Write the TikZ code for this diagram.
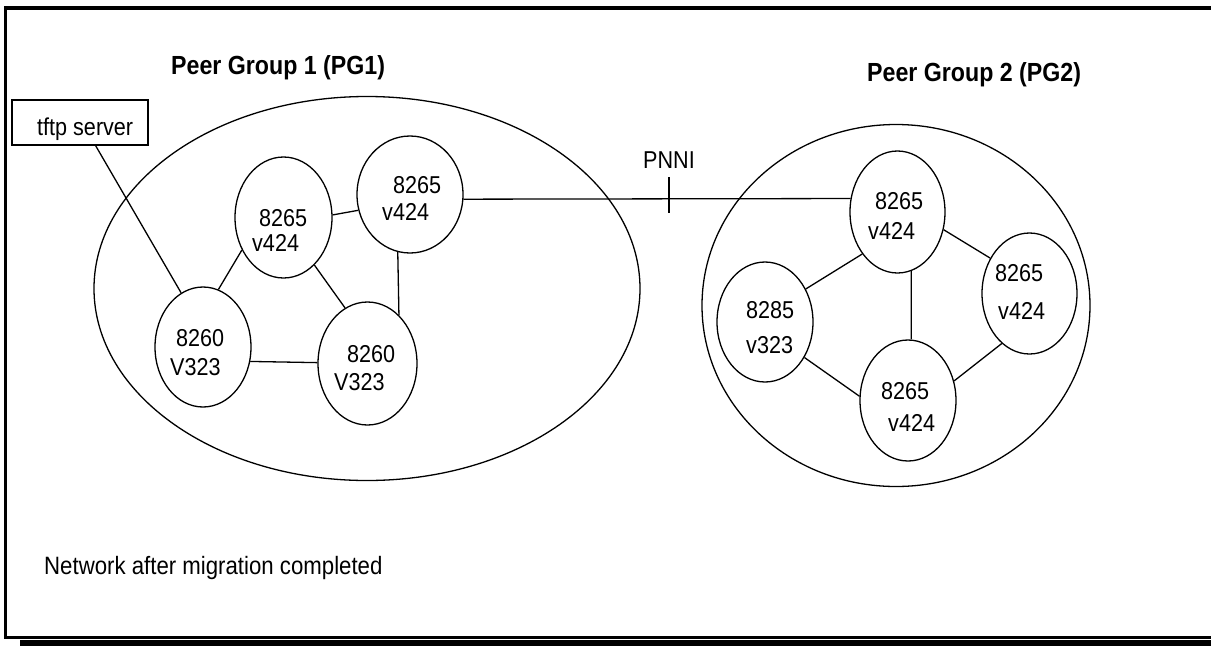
\documentclass[tikz,border=0pt]{standalone}
\usepackage{fontspec}
\setmainfont{Liberation Sans}[FakeStretch=0.885]
\usetikzlibrary{shapes.geometric}
\tikzset{
  unit/.style={x=1pt,y=-1pt},
  grp/.style={draw,ellipse,line width=1.3pt,inner sep=0pt},
  sw/.style={draw,ellipse,line width=1.3pt,inner sep=0pt},
  lbl/.style={anchor=base west,inner sep=0pt,font=\fontsize{24.4}{28}\selectfont},
  ttl/.style={anchor=base west,inner sep=0pt,font=\fontsize{26.2}{30}\selectfont\bfseries},
  link/.style={line width=1.3pt},
  frame/.style={line width=3.5pt}
}
\begin{document}
\begin{tikzpicture}[unit]
\useasboundingbox (0,0) rectangle (1211,646);
% frame
\draw[frame] (4,8) -- (1211,8);
\draw[frame] (5.5,6) -- (5.5,638);
\draw[line width=3pt] (4,637) -- (1211,637);
\fill[black] (20,640) rectangle (1211,646);
% peer groups
\node[grp,minimum width=546pt,minimum height=384pt] (pg1) at (367,288.5) {};
\node[grp,minimum width=388pt,minimum height=362pt] (pg2) at (896,305.5) {};
\node[ttl] (t1) at (171,74) {Peer Group 1 (PG1)};
\node[ttl] (t2) at (867,81) {Peer Group 2 (PG2)};
% switches PG1
\node[sw,minimum width=97pt,minimum height=121pt] (A) at (283.5,217.5) {};
\node[sw,minimum width=106pt,minimum height=117pt] (B) at (410,194.5) {};
\node[sw,minimum width=96pt,minimum height=120pt] (C) at (203,347) {};
\node[sw,minimum width=99pt,minimum height=123pt] (D) at (367.5,363.5) {};
% switches PG2
\node[sw,minimum width=95pt,minimum height=122pt] (E) at (897.5,212) {};
\node[sw,minimum width=95pt,minimum height=121pt] (F) at (1029.5,293.5) {};
\node[sw,minimum width=96pt,minimum height=120pt] (G) at (765,322) {};
\node[sw,minimum width=96pt,minimum height=121pt] (H) at (908,400.5) {};
% labels
\node[lbl] (A1) at (259,226) {8265};
\node[lbl] (A2) at (252,251) {v424};
\node[lbl] (B1) at (393,193) {8265};
\node[lbl] (B2) at (382,220) {v424};
\node[lbl] (C1) at (176,346) {8260};
\node[lbl] (C2) at (170,375) {V323};
\node[lbl] (D1) at (347,362) {8260};
\node[lbl] (D2) at (334,390) {V323};
\node[lbl] (E1) at (875,209) {8265};
\node[lbl] (E2) at (868,239) {v424};
\node[lbl] (F1) at (995,281) {8265};
\node[lbl] (F2) at (998,319) {v424};
\node[lbl] (G1) at (746,318) {8285};
\node[lbl] (G2) at (746,353) {v323};
\node[lbl] (H1) at (881,399) {8265};
\node[lbl] (H2) at (888,431) {v424};
% tftp server
\node[draw,line width=1.3pt,minimum width=136pt,minimum height=45pt,inner sep=0pt] (tftp) at (80,122.5) {};
\node[lbl] (tftpt) at (37,135) {tftp server};
% PNNI
\node[lbl] (pnni) at (643,168) {PNNI};
\coordinate (tk1) at (669,177);
\coordinate (tk2) at (669,213);
\draw[link] (tk1) -- (tk2);
% links
\draw[link] (tftp.-56) -- (C.112);
\draw[link] (C.75.5) -- (A.218);
\draw[link] (A.3) -- (B.197.4);
\draw[link] (A.-57.3) -- (D.112.5);
\draw[link] (B.258.7) -- (D.57.1);
\draw[link] (C.-17.4) -- (D.179);
\draw[link] (B.-5.4) -- (E.164.5);
\draw[link] (E.230) -- (G.39.8);
\draw[link] (E.-21.6) -- (F.138);
\draw[link] (E.283) -- (H.87);
\draw[link] (G.-42) -- (H.175.4);
\draw[link] (H.23.5) -- (F.241.2);
% caption
\node[lbl,font=\fontsize{25.1}{29}\selectfont] (cap) at (44,574) {Network after migration completed};
\end{tikzpicture}
\end{document}
